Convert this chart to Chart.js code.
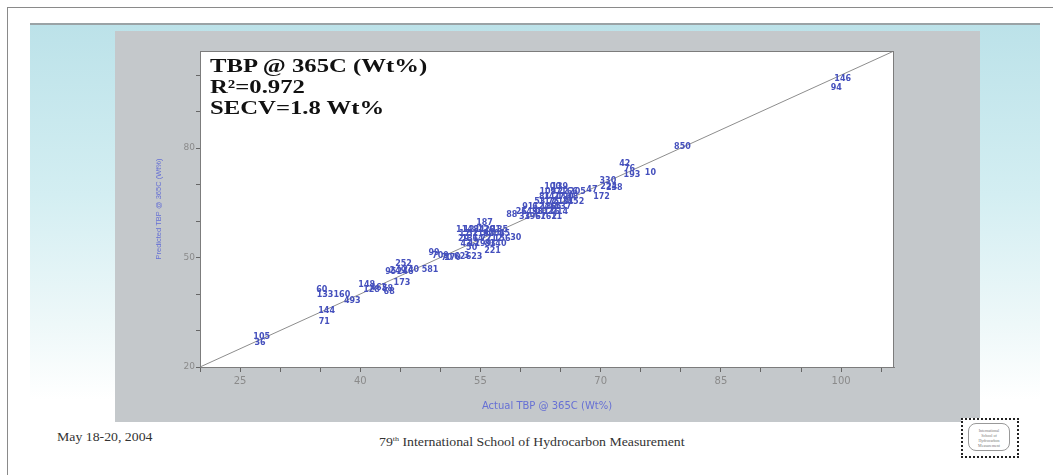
<!DOCTYPE html>
<html>
<head>
<meta charset="utf-8">
<script src="https://cdn.jsdelivr.net/npm/chart.js@4.4.1/dist/chart.umd.min.js"></script>
<style>
  html, body { margin: 0; padding: 0; background: #fff; }
  body { width: 1053px; height: 475px; position: relative; overflow: hidden; }
  .frame-top { position: absolute; left: 7px; top: 7px; width: 1046px; height: 1px; background: #8a8a8a; }
  .frame-left { position: absolute; left: 7px; top: 7px; width: 1px; height: 468px; background: #8a8a8a; }
  .band-line { position: absolute; left: 30px; top: 23px; width: 1010px; height: 2px; background: #9aa3a6; }
  .band { position: absolute; left: 30px; top: 25px; width: 1010px; height: 375px;
          background: linear-gradient(to bottom, #bce2e9 0%, #d3eef2 45%, #eef8f9 80%, #ffffff 100%); }
  .panel { position: absolute; left: 115px; top: 31px; width: 865px; height: 391px; background: #c4c8cb; }
  .note { position: absolute; left: 210px; top: 55px; font-family: "Liberation Serif", serif; font-weight: bold;
          font-size: 19px; line-height: 21px; color: #111; transform: scaleX(1.3); transform-origin: left top; }
  .date { position: absolute; left: 57px; top: 430px; font-family: "Liberation Serif", serif; font-size: 12px; color: #333;
          transform: scaleX(1.15); transform-origin: left top; }
  .school { position: absolute; left: 379px; top: 435px; font-family: "Liberation Serif", serif; font-size: 12px; color: #333;
            transform: scaleX(1.15); transform-origin: left top; }
  .logo { position: absolute; left: 961px; top: 418px; width: 54px; height: 36px; border: 2px dotted #222; background: #fff; }
  .logo div { position: absolute; left: 5px; top: 3px; width: 42px; height: 28px; border: 1px solid #999;
              border-radius: 8px; font: 4px "Liberation Serif", serif; color: #777; text-align: center; line-height: 5px; padding-top: 4px; box-sizing: border-box; }
</style>
</head>
<body>
<div class="frame-top"></div>
<div class="frame-left"></div>
<div class="band-line"></div>
<div class="band"></div>
<div class="panel"><canvas id="chart"></canvas></div>
<div class="note">TBP @ 365C (Wt%)<br>R²=0.972<br>SECV=1.8 Wt%</div>
<div class="date">May 18-20, 2004</div>
<div class="school">79<sup style="font-size:7px">th</sup> International School of Hydrocarbon Measurement</div>
<div class="logo"><div>International<br>School of<br>Hydrocarbon<br>Measurement</div></div>

<script>
// sample numbers, actual TBP @ 365C and predicted TBP @ 365C (Wt%)
const sampleIds = [
  105, 36, 144, 71, 60, 133, 160, 493, 148, 128, 462, 58, 68, 173, 252, 95, 249, 246, 240, 581,
  99, 709, 70, 170, 62, 3, 623, 50, 221, 187, 30,
  114, 121, 84, 126, 201, 135,
  17, 52, 118, 90, 206, 45,
  29, 131, 64, 77, 212, 156,
  43, 12, 199, 83, 140,
  88,
  100, 139,
  109, 57, 22, 166, 205,
  81, 141, 27, 190, 48,
  53, 117, 75, 210, 34, 152,
  91, 6, 124, 180, 65, 137,
  26, 149, 38, 102, 176, 214,
  33, 196, 67, 162, 11,
  47, 172, 330, 224, 238, 42, 76, 193, 10, 850, 146, 94
]
const actualTbp = [
  27.7, 27.5, 35.8, 35.5, 35.2, 35.6, 37.7, 39.0, 40.8, 41.4, 42.3, 43.4, 43.6, 45.2, 45.4, 43.8, 44.7, 45.6, 46.3, 48.7,
  49.2, 50.0, 50.8, 51.5, 52.4, 53.3, 54.2, 53.9, 56.5, 55.5, 59.4,
  53.0, 53.9, 54.8, 55.7, 56.5, 57.4,
  53.0, 54.0, 55.0, 56.0, 57.0, 58.0,
  52.9, 53.7, 54.7, 55.7, 56.7, 57.7,
  53.2, 54.2, 55.3, 56.2, 57.2,
  58.9,
  64.0, 64.9,
  63.4, 64.4, 65.3, 66.1, 67.1,
  63.0, 63.9, 64.8, 65.6, 66.5,
  62.4, 63.3, 64.1, 65.0, 65.9, 66.9,
  60.9, 61.8, 62.6, 63.5, 64.4, 65.3,
  60.1, 61.1, 62.1, 63.0, 63.9, 64.9,
  60.5, 61.5, 62.5, 63.5, 64.5,
  68.9, 70.1, 70.9, 71.0, 71.7, 73.0, 73.6, 73.9, 76.2, 80.2, 100.2, 99.4
]
const predictedTbp = [
  28.2, 26.6, 35.3, 32.3, 41.1, 39.7, 39.7, 38.1, 42.5, 41.1, 41.6, 41.4, 40.5, 43.0, 48.2, 46.0, 46.3, 46.0, 46.6, 46.6,
  51.2, 50.4, 49.9, 49.9, 50.1, 50.4, 50.1, 52.6, 51.8, 59.5, 55.3,
  57.5, 57.5, 57.5, 57.5, 57.5, 57.5,
  56.4, 56.4, 56.4, 56.4, 56.4, 56.4,
  55.1, 55.1, 55.1, 55.1, 55.1, 55.1,
  53.7, 53.7, 53.7, 53.7, 53.7,
  61.6,
  69.3, 69.3,
  67.9, 67.9, 67.9, 67.9, 67.9,
  66.6, 66.6, 66.6, 66.6, 66.6,
  65.2, 65.2, 65.2, 65.2, 65.2, 65.2,
  63.8, 63.8, 63.8, 63.8, 63.8, 63.8,
  62.5, 62.5, 62.5, 62.5, 62.5, 62.5,
  61.1, 61.1, 61.1, 61.1, 61.1,
  68.5, 66.6, 71.0, 69.3, 69.0, 75.6, 74.2, 72.6, 73.2, 80.3, 98.9, 96.4
]
const xTickLabels = [25, 40, 55, 70, 85, 100]
const yTickLabels = [20, 50, 80]
const diagonalEnds = [20, 110]

const points = actualTbp.map((x, i) => ({ x: x, y: predictedTbp[i] }))

// white plot area with a thin box around it
const plotBox = {
  id: 'plotBox',
  beforeDraw(chart) {
    const a = chart.chartArea, ctx = chart.ctx
    ctx.save()
    ctx.fillStyle = '#ffffff'
    ctx.fillRect(a.left, a.top, a.right - a.left, a.bottom - a.top)
    ctx.restore()
  },
  afterDraw(chart) {
    const a = chart.chartArea, ctx = chart.ctx
    ctx.save()
    ctx.strokeStyle = '#7c7c7c'
    ctx.lineWidth = 1
    ctx.strokeRect(a.left + 0.5, a.top + 0.5, a.right - a.left - 1, a.bottom - a.top)
    ctx.restore()
  }
}

// each sample is drawn as its number
const sampleLabels = {
  id: 'sampleLabels',
  afterDatasetsDraw(chart) {
    const meta = chart.getDatasetMeta(1), ctx = chart.ctx
    ctx.save()
    ctx.font = 'bold 8px "DejaVu Sans"'
    ctx.fillStyle = '#4550bd'
    ctx.textAlign = 'center'
    ctx.textBaseline = 'middle'
    meta.data.forEach((pt, i) => ctx.fillText(String(sampleIds[i]), pt.x, pt.y))
    ctx.restore()
  }
}

let graf = document.getElementById('chart').getContext('2d')

const config = {
  type: 'scatter',
  data: {
    datasets: [
      {
        type: 'line',
        label: '1:1',
        data: diagonalEnds.map(v => ({ x: v, y: v })),
        borderColor: '#8d8d8d',
        borderWidth: 1,
        pointRadius: 0
      },
      {
        label: 'samples',
        data: points,
        pointRadius: 0,
        pointHoverRadius: 0
      }
    ]
  },
  options: {
    responsive: true,
    maintainAspectRatio: false,
    animation: false,
    layout: { padding: { left: 37, right: 86, top: 20, bottom: 0 } },
    plugins: { legend: { display: false }, tooltip: { enabled: false } },
    scales: {
      x: {
        type: 'linear',
        min: 20,
        max: 106.6,
        afterFit: s => { s.height = 55 },
        border: { color: '#7c7c7c' },
        grid: { drawOnChartArea: false, drawTicks: true, tickLength: 5, color: '#666' },
        ticks: {
          stepSize: 5,
          includeBounds: false,
          autoSkip: false,
          maxRotation: 0,
          padding: 3,
          color: '#8a8a8a',
          font: { family: 'DejaVu Sans', size: 10 },
          callback: v => xTickLabels.includes(v) ? String(v) : ''
        },
        title: {
          display: true,
          text: 'Actual TBP @ 365C (Wt%)',
          color: '#6670d4',
          font: { family: 'DejaVu Sans', size: 10 },
          padding: { top: 4, bottom: 10 }
        }
      },
      y: {
        type: 'linear',
        min: 20,
        max: 106.6,
        afterFit: s => { s.width = 48 },
        border: { color: '#7c7c7c' },
        grid: { drawOnChartArea: false, drawTicks: true, tickLength: 4, color: '#666' },
        ticks: {
          stepSize: 10,
          includeBounds: false,
          autoSkip: false,
          padding: 1,
          color: '#8a8a8a',
          font: { family: 'DejaVu Sans', size: 9 },
          callback: v => yTickLabels.includes(v) ? String(v) : ''
        },
        title: {
          display: true,
          text: 'Predicted TBP @ 365C (Wt%)',
          color: '#6670d4',
          font: { family: 'Liberation Sans', size: 7.5 },
          padding: 2
        }
      }
    }
  },
  plugins: [plotBox, sampleLabels]
}

var myChart = new Chart(graf, config)
</script>
</body>
</html>
